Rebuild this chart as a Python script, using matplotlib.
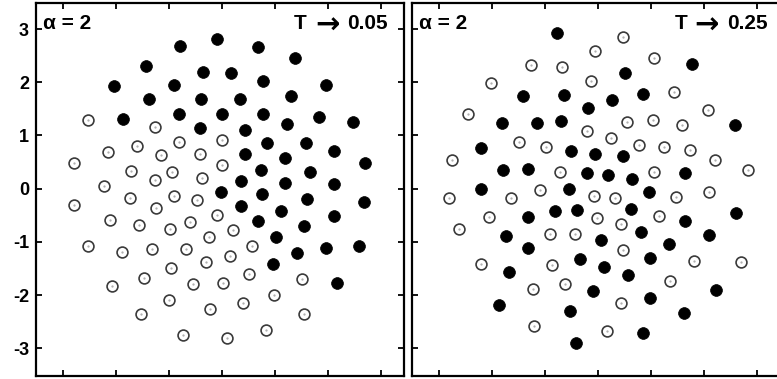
import matplotlib
matplotlib.use("Agg")
import matplotlib.pyplot as plt

plt.rcParams['font.family'] = ['Liberation Sans', 'DejaVu Sans']
plt.rcParams['axes.unicode_minus'] = False

# T -> 0.05, alpha = 2 : filled = one species, open = the other
left_filled_x = [-0.78, -1.42, -0.36, -2.02, -0.90, -1.37, -0.39, -1.85, -0.80, -0.40,
                 -0.08, 0.68, 1.38, 0.18, 0.78, 1.96, 0.34, 1.31, 0.00, 0.78,
                 1.83, 2.48, 1.23, 0.45, 0.86, 1.59, 2.12, 0.44, 1.20, 2.71,
                 0.75, 1.66, 0.37, 1.20, 2.12, -0.02, 0.77, 1.61, 2.68, 0.36,
                 1.12, 2.12, 0.68, 1.56, 1.02, 1.96, 2.59, 1.42, 0.97, 2.17]
left_filled_y = [2.69, 2.30, 2.20, 1.93, 1.95, 1.68, 1.69, 1.31, 1.41, 1.15,
                 2.82, 2.67, 2.46, 2.18, 2.02, 1.95, 1.69, 1.75, 1.40, 1.41,
                 1.34, 1.25, 1.21, 1.11, 0.86, 0.85, 0.71, 0.65, 0.58, 0.48,
                 0.36, 0.31, 0.14, 0.10, 0.09, -0.06, -0.10, -0.20, -0.25, -0.32,
                 -0.41, -0.52, -0.61, -0.71, -0.90, -1.12, -1.08, -1.20, -1.42, -1.77]
left_open_x = [-2.51, -1.25, -1.60, -0.80, -2.15, -1.14, -0.41, -2.79, -1.71, -0.94,
               -1.25, -0.37, -2.22, 0.01, 0.01, -2.78, -1.73, -0.90, -0.46, -1.24,
               -2.10, -1.55, -0.98, -0.60, -2.52, -1.88, -1.32, -0.68, -0.95, -1.47,
               -2.07, -0.53, -0.99, -1.52, -0.73, -0.08, 0.22, -0.23, 0.57, 0.15,
               -0.30, 0.52, 1.51, 0.02, 0.98, 0.41, -0.22, 1.56, 0.83, 0.10]
left_open_y = [1.30, 1.16, 0.81, 0.88, 0.69, 0.63, 0.66, 0.48, 0.34, 0.32,
               0.16, 0.21, 0.05, 0.91, 0.44, -0.31, -0.17, -0.14, -0.22, -0.36,
               -0.58, -0.69, -0.76, -0.63, -1.07, -1.19, -1.14, -1.14, -1.49, -1.68,
               -1.83, -1.80, -2.09, -2.36, -2.75, -0.50, -0.78, -0.91, -1.08, -1.27,
               -1.38, -1.61, -1.70, -1.78, -1.99, -2.14, -2.27, -2.35, -2.65, -2.81]

# T -> 0.25, alpha = 2
right_filled_x = [-0.78, -1.42, -0.65, -0.18, -1.81, -1.16, -0.69, -2.20, -0.51, -0.06,
                  -1.79, -1.33, -0.21, -2.21, -0.55, 1.78, 0.51, 0.85, 0.26, 2.59,
                  0.47, 0.19, 0.64, 1.65, 0.96, -0.81, -0.39, -1.32, -1.73, -1.33,
                  -0.34, -1.68, -0.10, -1.86, -0.52, -0.41, 0.63, 2.61, 1.65, 0.82,
                  2.10, 0.06, 1.34, 0.98, 0.11, 0.56, 2.23, 0.98, 1.62, 0.85]
right_filled_y = [2.93, 1.75, 1.76, 1.52, 1.24, 1.24, 1.27, 0.76, 0.71, 0.65,
                  0.35, 0.37, 0.29, -0.01, -0.01, 2.35, 2.17, 1.78, 1.66, 1.19,
                  0.61, 0.25, 0.19, 0.29, -0.07, -0.41, -0.40, -0.54, -0.88, -1.12,
                  -1.33, -1.56, -1.92, -2.18, -2.29, -2.90, -0.39, -0.45, -0.61, -0.82,
                  -0.87, -0.96, -1.03, -1.31, -1.48, -1.63, -1.91, -2.05, -2.34, -2.72]
right_open_x = [-0.06, -1.26, -0.68, -0.14, -2.02, -2.45, -0.21, -1.50, -0.99, -2.76,
                -0.72, -1.10, 0.48, 1.05, 1.43, 2.07, 0.55, 1.04, 1.58, 0.25,
                0.77, 1.25, 1.73, 2.20, 2.84, 1.05, 2.09, -2.81, -1.65, -0.08,
                -2.05, -0.01, -2.62, -0.91, -0.44, -2.20, -0.86, -0.62, -1.22, -1.21,
                0.32, 1.47, 0.44, 1.15, 0.48, 1.82, 2.70, 1.36, 0.43, 0.17]
right_open_y = [2.58, 2.33, 2.29, 2.02, 1.98, 1.41, 1.08, 0.87, 0.78, 0.54,
                0.32, -0.03, 2.86, 2.46, 1.82, 1.47, 1.26, 1.29, 1.20, 0.96,
                0.83, 0.78, 0.73, 0.54, 0.35, 0.32, -0.07, -0.18, -0.18, -0.14,
                -0.54, -0.56, -0.76, -0.86, -0.86, -1.42, -1.43, -1.79, -1.88, -2.58,
                -0.17, -0.15, -0.67, -0.51, -1.15, -1.35, -1.37, -1.74, -2.15, -2.67]

y_ticks = [-3, -2, -1, 0, 1, 2, 3]
x_ticks = [-3, -2, -1, 0, 1, 2, 3]

fig = plt.figure(figsize=(7.77, 3.79), dpi=100)
ax1 = fig.add_axes([36 / 777, 3 / 379, 368 / 777, 373 / 379])
ax2 = fig.add_axes([412 / 777, 3 / 379, 372 / 777, 373 / 379])


def draw_panel(ax, fx, fy, ox, oy, xlim, temp, pos):
    ax.plot(ox, oy, 'o', ms=7.8, mfc='white', mec='#3a3a3a', mew=1.2, ls='none')
    ax.plot(ox, oy, '.', ms=1.2, color='#aaaaaa', ls='none')
    ax.plot(fx, fy, 'o', ms=8.5, mfc='black', mec='black', mew=0.5, ls='none')
    ax.set_xlim(*xlim)
    ax.set_ylim(-3.52, 3.49)
    ax.set_xticks(x_ticks)
    ax.set_yticks(y_ticks)
    ax.tick_params(direction='in', top=True, right=True, length=4, width=1.3,
                   labelbottom=False)
    for s in ax.spines.values():
        s.set_linewidth(1.6)
    ax.text(0.02, 0.93, 'α = 2', transform=ax.transAxes, fontsize=15,
            fontweight='bold', ha='left', va='baseline')
    # "T → 0.05" set in three pieces so the arrow can be drawn bigger
    ax.text(pos[0], 0.93, 'T', transform=ax.transAxes, fontsize=15,
            fontweight='bold', ha='left', va='baseline')
    ax.text(pos[1], 0.918, '→', transform=ax.transAxes, fontsize=21,
            fontweight='bold', ha='center', va='baseline', family='DejaVu Sans')
    ax.text(pos[2], 0.93, temp, transform=ax.transAxes, fontsize=15,
            fontweight='bold', ha='right', va='baseline')


draw_panel(ax1, left_filled_x, left_filled_y, left_open_x, left_open_y,
           (-3.5, 3.44), '0.05', (0.70, 0.792, 0.955))
draw_panel(ax2, right_filled_x, right_filled_y, right_open_x, right_open_y,
           (-3.51, 3.51), '0.25', (0.705, 0.792, 0.955))

ax1.set_yticklabels([str(t) for t in y_ticks], fontsize=13, fontweight='bold')
ax1.tick_params(axis='y', pad=5)
ax2.tick_params(labelleft=False)

fig.savefig('out.png', dpi=100)
